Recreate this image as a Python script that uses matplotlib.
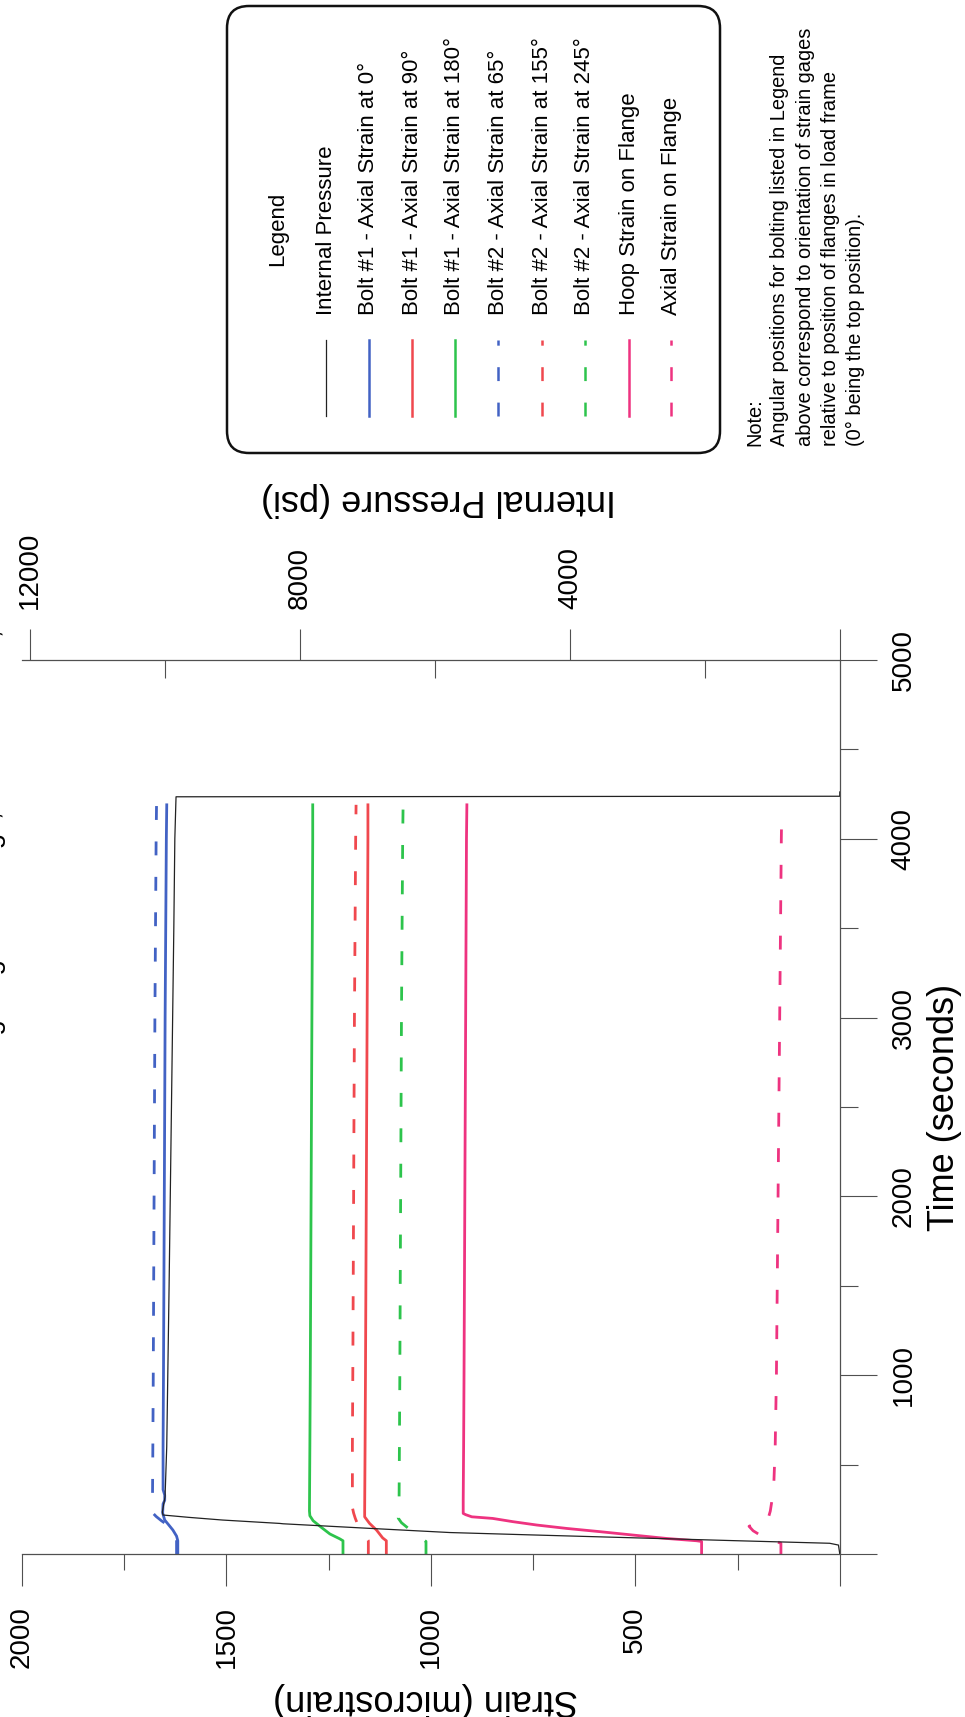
import matplotlib
matplotlib.use('Agg')
import matplotlib.pyplot as plt
from matplotlib.patches import FancyBboxPatch
from matplotlib.ticker import MultipleLocator, FixedLocator, FuncFormatter

plt.rcParams['font.family'] = ['Liberation Sans', 'DejaVu Sans']
plt.rcParams['lines.scale_dashes'] = False

W, H = 965, 1717

# ---- values: time (s) -> strain (microstrain) ----
t_b1_0 = [0, 74, 100, 134, 165, 190, 229, 280, 300, 330, 360, 600, 1000, 2000, 3000, 4000, 4190]
s_b1_0 = [1619, 1619, 1622, 1631, 1642, 1651, 1656, 1655, 1651, 1651, 1655, 1655, 1654, 1652, 1650, 1647, 1646]

t_b1_90 = [0, 74, 90, 134, 171, 208, 240, 600, 1000, 2000, 3000, 4000, 4190]
s_b1_90 = [1109, 1109, 1118, 1133, 1150, 1162, 1162, 1161, 1160, 1158, 1156, 1154, 1154]

t_b1_180 = [0, 74, 85, 112, 149, 186, 214, 240, 600, 1000, 2000, 3000, 4000, 4190]
s_b1_180 = [1215, 1215, 1223, 1247, 1268, 1288, 1296, 1297, 1296, 1295, 1293, 1291, 1289, 1289]

t_b2_65 = [0, 74, 100, 134, 165, 186, 210, 229, 260, 600, 1000, 2000, 3000, 4000, 4190]
s_b2_65 = [1622, 1622, 1625, 1634, 1646, 1659, 1672, 1680, 1681, 1680, 1679, 1677, 1675, 1672, 1671]

t_b2_155 = [0, 75, 110, 150, 171, 200, 229, 260, 600, 1000, 2000, 3000, 4000, 4190]
s_b2_155 = [1153, 1153, 1164, 1175, 1180, 1185, 1189, 1192, 1192, 1191, 1189, 1187, 1184, 1183]

t_b2_245 = [0, 70, 100, 145, 175, 201, 240, 600, 1000, 2000, 3000, 4000, 4190]
s_b2_245 = [1012, 1012, 1030, 1056, 1072, 1080, 1078, 1077, 1076, 1074, 1072, 1069, 1068]

t_hoop = [0, 70, 74, 87, 106, 125, 143, 162, 181, 199, 208, 220, 227, 300, 600, 1000, 2000, 3000, 4000, 4190]
s_hoop = [338, 338, 350, 424, 506, 587, 668, 741, 800, 849, 900, 915, 921, 921, 920, 919, 917, 915, 913, 912]

t_axial = [0, 60, 85, 106, 130, 155, 175, 200, 240, 284, 340, 415, 600, 1000, 2000, 3000, 4000, 4170]
s_axial = [144, 144, 175, 195, 212, 222, 200, 175, 170, 167, 163, 161, 158, 155, 151, 147, 143, 142]

# internal pressure (psi), right-hand scale of the original sheet
t_press = [0, 50, 60, 75, 88, 107, 120, 145, 169, 171, 190, 205, 218, 235, 320, 600,
           1500, 2500, 3500, 4000, 4200, 4235, 4238, 4262]
p_press = [0, 20, 150, 1600, 2815, 4593, 5778, 7050, 8250, 8300, 9150, 9650, 10030, 10040, 10000, 9975,
           9940, 9905, 9870, 9855, 9840, 9837, 0, 0]

blue = '#4262c4'
red = '#f0484e'
green = '#2dc44c'
pink = '#ee3380'
axcol = '#505050'
dash = (10, 15.5)

leg_labels = ['Internal Pressure',
              'Bolt #1 - Axial Strain at 0°',
              'Bolt #1 - Axial Strain at 90°',
              'Bolt #1 - Axial Strain at 180°',
              'Bolt #2 - Axial Strain at 65°',
              'Bolt #2 - Axial Strain at 155°',
              'Bolt #2 - Axial Strain at 245°',
              'Hoop Strain on Flange',
              'Axial Strain on Flange']
leg_colors = ['#222222', blue, red, green, blue, red, green, pink, pink]
leg_dashed = [False, False, False, False, True, True, True, False, True]

note = ("Note:\n"
        "Angular positions for bolting listed in Legend\n"
        "above correspond to orientation of strain gages\n"
        "relative to position of flanges in load frame\n"
        "(0° being the top position).")

# the scan cuts the title off at the page edge
title = 'Bolting Gage Readings, November 20, 1997'

fmt = FuncFormatter(lambda v, p: '' if v == 0 else '%d' % v)

fig = plt.figure(figsize=(W / 100, H / 100), dpi=100)

# the sheet is turned on its side: strain runs right-to-left, time runs upward
L, R, B, T = 22, 839.8, 1554, 660
ax = fig.add_axes([L / W, 1 - B / H, (R - L) / W, (B - T) / H])
ax.set_xlim(2000, 0)
ax.set_ylim(0, 5000)
ax.patch.set_visible(False)

strain_series = [
    (t_b1_0, s_b1_0, blue, False),
    (t_b1_90, s_b1_90, red, False),
    (t_b1_180, s_b1_180, green, False),
    (t_b2_65, s_b2_65, blue, True),
    (t_b2_155, s_b2_155, red, True),
    (t_b2_245, s_b2_245, green, True),
    (t_hoop, s_hoop, pink, False),
    (t_axial, s_axial, pink, True),
]
for tt, ss, c, dashed in strain_series:
    if dashed:
        ax.plot(ss, tt, color=c, lw=2.0, dashes=dash)
    else:
        ax.plot(ss, tt, color=c, lw=2.0)

for side in ['left', 'top']:
    ax.spines[side].set_visible(False)
for side in ['bottom', 'right']:
    ax.spines[side].set_color(axcol)
    ax.spines[side].set_linewidth(0.9)

ax.xaxis.set_major_locator(MultipleLocator(500))
ax.xaxis.set_minor_locator(MultipleLocator(250))
ax.xaxis.set_major_formatter(fmt)
ax.tick_params(axis='x', which='major', direction='out', length=23, width=0.8, color=axcol,
               labelsize=20, pad=14.5, labelrotation=90, top=False, bottom=True)
ax.tick_params(axis='x', which='minor', direction='out', length=11.5, width=0.8, color=axcol,
               top=False, bottom=True)

ax.yaxis.tick_right()
ax.yaxis.set_major_locator(MultipleLocator(1000))
ax.yaxis.set_minor_locator(MultipleLocator(500))
ax.yaxis.set_major_formatter(fmt)
ax.tick_params(axis='y', which='major', direction='out', length=26.6, width=0.8, color=axcol,
               labelsize=20, pad=10, labelrotation=90, left=False, right=True)
ax.tick_params(axis='y', which='minor', direction='out', length=13, width=0.8, color=axcol,
               left=False, right=True)
plt.setp(ax.yaxis.get_majorticklabels(), va='center')

ax.set_xlabel('Strain (microstrain)', fontsize=26, rotation=180, ha='center', va='center')
ax.xaxis.set_label_coords(0.494, -0.1633)
ax.yaxis.set_label_position('right')
ax.set_ylabel('Time (seconds)', fontsize=26, rotation=90, ha='center', va='center')
ax.yaxis.set_label_coords(1.128, 0.499)

# pressure scale along the top edge
ax2 = ax.twiny()
ax2.set_xlim(12120, 0)
ax2.plot(p_press, t_press, color='#222222', lw=0.9)
for side in ['left', 'right', 'bottom']:
    ax2.spines[side].set_visible(False)
ax2.spines['top'].set_color(axcol)
ax2.spines['top'].set_linewidth(0.9)
ax2.xaxis.set_major_locator(FixedLocator([0, 4000, 8000, 12000]))
ax2.xaxis.set_minor_locator(FixedLocator([2000, 6000, 10000]))
ax2.xaxis.set_major_formatter(fmt)
ax2.tick_params(axis='x', which='major', direction='out', length=22.3, width=0.8, color=axcol,
                labelsize=20, pad=14.4, labelrotation=90, top=True, bottom=False,
                labeltop=True, labelbottom=False)
ax2.tick_params(axis='x', which='minor', direction='in', length=13, width=0.8, color=axcol,
                top=True, bottom=False)
ax2.set_xlabel('Internal Pressure (psi)', fontsize=26, rotation=180, ha='center', va='center')
ax2.xaxis.set_label_coords(0.509, 1.179)

# overlay in pixel units for the hand-made (rotated) legend, note and title
lax = fig.add_axes([0, 0, 1, 1], zorder=5)
lax.set_xlim(0, W)
lax.set_ylim(H, 0)
lax.axis('off')

lax.add_patch(FancyBboxPatch((227, 6), 493, 447, boxstyle='round,pad=0,rounding_size=22',
                             fill=False, lw=1.8, ec='#111111'))
lax.text(278, 229, 'Legend', rotation=90, ha='center', va='center', fontsize=16)
leg_x = [326, 369, 412, 455, 498, 542, 585, 629, 671]
for x, lab, c, dashed in zip(leg_x, leg_labels, leg_colors, leg_dashed):
    lw = 0.9 if c == '#222222' else 1.8
    if dashed:
        lax.plot([x, x], [416, 340], color=c, lw=lw, dashes=dash)
    else:
        lax.plot([x, x], [416, 340], color=c, lw=lw)
    lax.text(x, 315, lab, rotation=90, ha='center', va='bottom', fontsize=16)

lax.text(745, 446, note, rotation=90, ha='left', va='bottom', fontsize=14.4,
         linespacing=1.42, multialignment='left')

lax.text(6, 560, title, rotation=90, ha='right', va='top', fontsize=20)

fig.savefig('out.png', dpi=100)
